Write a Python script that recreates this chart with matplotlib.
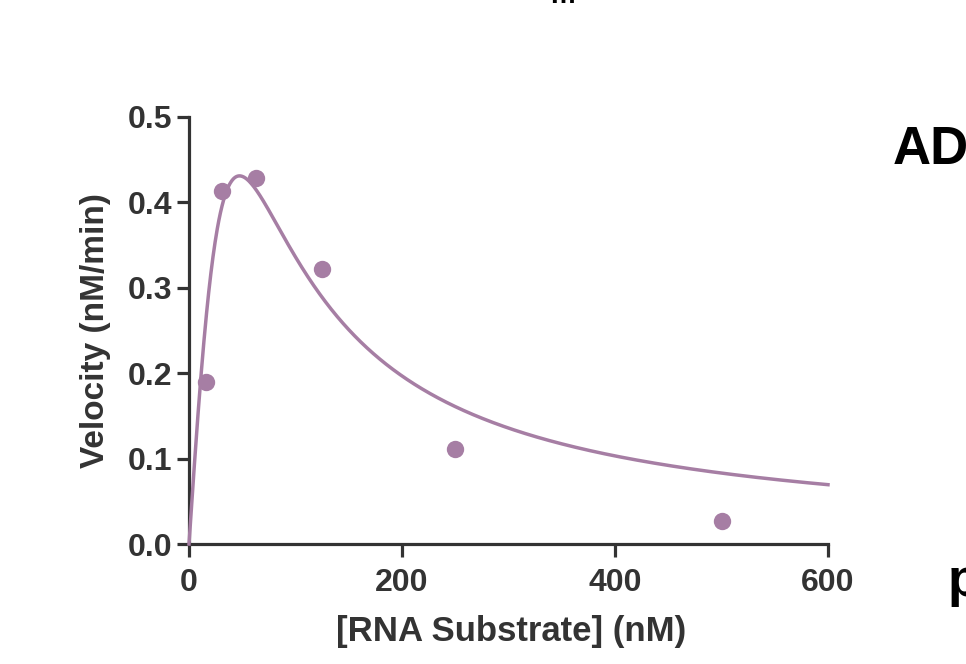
import numpy as np
import matplotlib
matplotlib.use("Agg")
import matplotlib.pyplot as plt

plt.rcParams['font.family'] = ['Liberation Sans', 'DejaVu Sans']

# measured velocities
substrate = [15.6, 31.25, 62.5, 125, 250, 500]
velocity = [0.190, 0.413, 0.428, 0.322, 0.111, 0.027]

# substrate inhibition fit: v = Vmax*S/(Km + S*(1+S/Ki))
vmax = 14.64
km = 781.8
ki = 2.878

xticks = [0, 200, 400, 600]
yticks = [0.0, 0.1, 0.2, 0.3, 0.4, 0.5]

col = '#a67ea4'
dark = '#333333'

s_fit = np.linspace(0, 600, 1200)
v_fit = vmax * s_fit / (km + s_fit * (1 + s_fit / ki))

fig = plt.figure(figsize=(9.66, 6.64), dpi=100)
ax = fig.add_axes([189/966, 1-544/664, (828-189)/966, (544-117)/664])

ax.plot(s_fit, v_fit, color=col, lw=2.5, clip_on=False, zorder=3)
ax.plot(substrate, velocity, 'o', color=col, ms=12.5, mec='none', clip_on=False, zorder=4)

ax.set_xlim(0, 600)
ax.set_ylim(0, 0.5)
ax.set_xticks(xticks)
ax.set_yticks(yticks)
ax.set_xticklabels([str(t) for t in xticks])
ax.set_yticklabels(['%.1f' % t for t in yticks])

for sp in ['top', 'right']:
    ax.spines[sp].set_visible(False)
for sp in ['left', 'bottom']:
    ax.spines[sp].set_linewidth(2.3)
    ax.spines[sp].set_color(dark)
    ax.spines[sp].set_capstyle('projecting')

ax.tick_params(axis='both', direction='out', length=9, width=2.3, color=dark,
               labelcolor=dark, labelsize=23)
ax.tick_params(axis='y', pad=3)
ax.tick_params(axis='x', pad=8)
for lab in ax.get_xticklabels() + ax.get_yticklabels():
    lab.set_fontweight('bold')

ax.set_xlabel('[RNA Substrate] (nM)', fontsize=25, fontweight='bold', color=dark, va='center')
ax.set_ylabel('Velocity (nM/min)', fontsize=24, fontweight='bold', color=dark, va='center')
ax.xaxis.set_label_coords(0.504, -0.206)
ax.yaxis.set_label_coords(-0.147, 0.5)

# cut-off text from neighbouring panels
fig.text(893/966, 1-150/664, 'AD', fontsize=38, fontweight='bold', color='black', va='center', ha='left')
fig.text(948/966, 1-582/664, 'p', fontsize=38, fontweight='bold', color='black', va='center', ha='left')
fig.text(562/966, 1-3/664, 'm', fontsize=20, fontweight='bold', color='black', va='baseline', ha='center')

fig.savefig('out.png', dpi=100)
